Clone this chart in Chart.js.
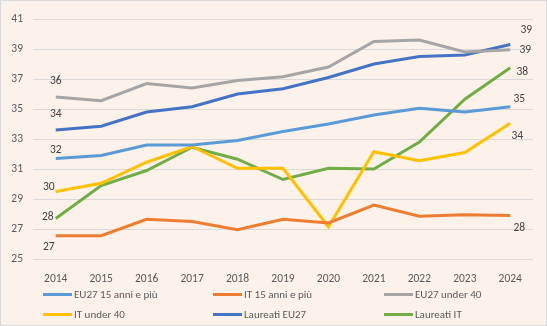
<!DOCTYPE html>
<html>
<head>
<meta charset="utf-8">
<script src="https://cdn.jsdelivr.net/npm/chart.js@4/dist/chart.umd.min.js"></script>
<style>
  body { margin: 0; background: #fff; }
  #wrap {
    position: relative; width: 545px; height: 324px;
    border: 1px solid #d9d9d9; background: #fdf2ea;
    font-family: Carlito, Lato, sans-serif;
  }
  #chartBox { position: absolute; left: 0; top: 0; width: 545px; height: 282px; }
  #legend { position: absolute; left: 0; top: 0; width: 545px; height: 324px; pointer-events: none; }
  .item { position: absolute; display: flex; align-items: center; font-size: 11px; color: #595959; white-space: nowrap; }
  .item span.sw { display: inline-block; width: 29px; height: 3px; margin-right: 2px; }
</style>
</head>
<body>
<div id="wrap">
  <div id="chartBox"><canvas id="lineChart"></canvas></div>
  <div id="legend"></div>
</div>
<script>
// categories and series
const years = ["2014", "2015", "2016", "2017", "2018", "2019", "2020", "2021", "2022", "2023", "2024"];
const eu27All = [31.7, 31.9, 32.6, 32.6, 32.9, 33.5, 34.0, 34.6, 35.05, 34.8, 35.15];
const itAll = [26.55, 26.55, 27.65, 27.5, 26.95, 27.65, 27.4, 28.6, 27.85, 27.95, 27.9];
const eu27Under40 = [35.8, 35.55, 36.7, 36.4, 36.9, 37.15, 37.8, 39.5, 39.6, 38.8, 38.95];
const itUnder40 = [29.5, 30.05, 31.45, 32.5, 31.05, 31.05, 27.15, 32.15, 31.55, 32.1, 34.05];
const eu27Grad = [33.6, 33.85, 34.8, 35.15, 36.0, 36.35, 37.1, 38.0, 38.5, 38.6, 39.3];
const itGrad = [27.7, 29.9, 30.9, 32.45, 31.65, 30.3, 31.05, 31.0, 32.8, 35.65, 37.75];
const seriesNames = ["EU27 15 anni e più", "IT 15 anni e più", "EU27 under 40", "IT under 40", "Laureati EU27", "Laureati IT"];
const yTicks = [25, 27, 29, 31, 33, 35, 37, 39, 41];

const colors = ["#5b9bd5", "#ed7d31", "#a5a5a5", "#ffc000", "#4472c4", "#70ad47"];
const allSeries = [eu27All, itAll, eu27Under40, itUnder40, eu27Grad, itGrad];
const fontFamily = "Carlito, Lato, sans-serif";
// label offsets for first / last point of each line
const labelOffsets = [
  { first: [0, -8], last: [9, -8] },
  { first: [-7, 11], last: [9, 13] },
  { first: [0, -16], last: [15, 0] },
  { first: [-7, -4], last: [7, 13] },
  { first: [0, -16], last: [16, -14] },
  { first: [-8, -1], last: [12, 4] }
];

const endLabels = {
  id: "endLabels",
  afterDatasetsDraw(chart) {
    const ctx = chart.ctx;
    ctx.save();
    ctx.font = "11.5px " + fontFamily;
    ctx.fillStyle = "#404040";
    ctx.textAlign = "center";
    ctx.textBaseline = "middle";
    chart.data.datasets.forEach((ds, i) => {
      const pts = chart.getDatasetMeta(i).data;
      const off = labelOffsets[i];
      const a = pts[0], b = pts[pts.length - 1];
      ctx.fillText(Math.round(ds.data[0]), a.x + off.first[0], a.y + off.first[1]);
      ctx.fillText(Math.round(ds.data[ds.data.length - 1]), b.x + off.last[0], b.y + off.last[1]);
    });
    ctx.restore();
  }
};

const chart = new Chart(document.getElementById("lineChart"), {
  type: "line",
  data: {
    labels: years,
    datasets: allSeries.map((s, i) => ({
      label: seriesNames[i],
      data: s,
      borderColor: colors[i],
      backgroundColor: colors[i],
      borderWidth: 3,
      pointRadius: 0,
      tension: 0
    }))
  },
  options: {
    responsive: true,
    maintainAspectRatio: false,
    animation: false,
    layout: { padding: { top: 18, right: 13, left: 0, bottom: 0 } },
    plugins: { legend: { display: false }, tooltip: { enabled: false } },
    scales: {
      x: {
        offset: true,
        grid: { display: false },
        border: { display: false },
        ticks: { color: "#595959", font: { family: fontFamily, size: 11.5 }, maxRotation: 0, padding: 5 },
        afterFit(scale) { scale.height = 24; }
      },
      y: {
        min: 25, max: 41,
        afterBuildTicks(scale) { scale.ticks = yTicks.map(v => ({ value: v })); },
        grid: { color: "#d9d9d9", lineWidth: 1, drawTicks: false },
        border: { display: false },
        ticks: { color: "#595959", font: { family: fontFamily, size: 11.5 }, padding: 10 },
        afterFit(scale) { scale.width = 32; }
      }
    }
  },
  plugins: [endLabels]
});

// legend: 3 columns x 2 rows
const legendPos = [[43, 296], [213, 296], [384, 296], [43, 316], [213, 316], [384, 316]];
const legend = document.getElementById("legend");
seriesNames.forEach((name, i) => {
  const el = document.createElement("div");
  el.className = "item";
  el.style.left = (legendPos[i][0] - 1) + "px";
  el.style.top = (legendPos[i][1] - 9) + "px";
  el.innerHTML = '<span class="sw" style="background:' + colors[i] + '"></span>' + name;
  legend.appendChild(el);
});
</script>
</body>
</html>
